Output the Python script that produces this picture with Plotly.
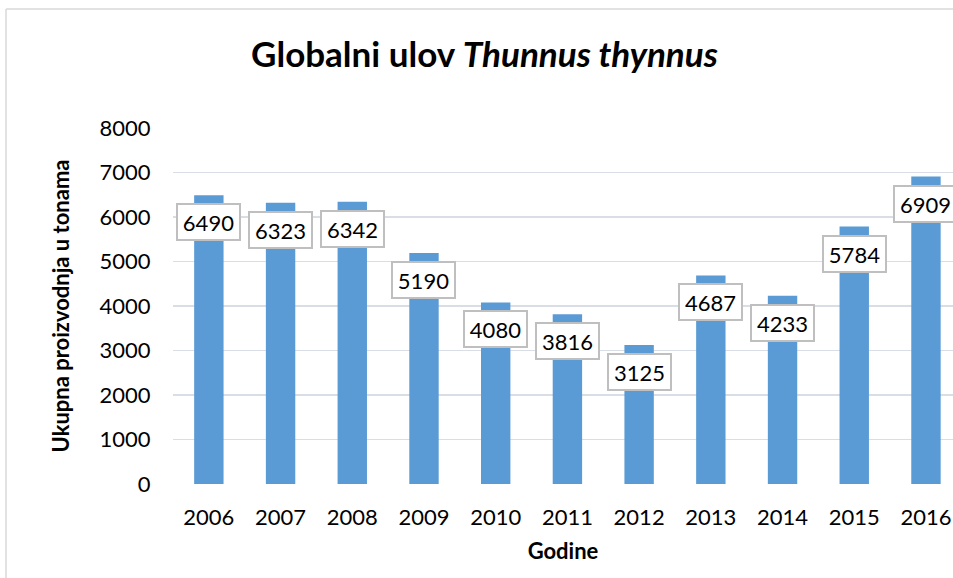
import plotly.graph_objects as go

years = ["2006", "2007", "2008", "2009", "2010", "2011", "2012", "2013", "2014", "2015", "2016"]
catch = [6490, 6323, 6342, 5190, 4080, 3816, 3125, 4687, 4233, 5784, 6909]
y_ticks = [0, 1000, 2000, 3000, 4000, 5000, 6000, 7000, 8000]

FONT = "Lato, 'Open Sans', sans-serif"
W, H = 953, 578
ML, MT, MB = 173, 128, 94
PW, PH = W - ML, H - MT - MB

fig = go.Figure()
fig.add_trace(go.Bar(
    x=years, y=catch,
    marker=dict(color="#5B9BD5", line=dict(width=0)),
    hoverinfo="skip",
))

for i, v in enumerate(catch):
    fig.add_annotation(
        x=i, y=v, xref="x", yref="y",
        text=str(v), showarrow=False,
        yshift=-27, yanchor="middle", xanchor="center",
        font=dict(family=FONT, size=22, color="#000000"),
        bgcolor="#FFFFFF", bordercolor="#BFBFBF", borderwidth=2, borderpad=1,
        width=59, height=32,
    )

# outer chart frame (left/top visible)
fx = (6 - ML) / PW
fy = (H - MB - 9) / PH
fig.add_shape(type="line", xref="paper", yref="paper",
              x0=fx, x1=fx, y0=-1, y1=fy,
              line=dict(color="#D9D9D9", width=1.5))
fig.add_shape(type="line", xref="paper", yref="paper",
              x0=fx, x1=1.2, y0=fy, y1=fy,
              line=dict(color="#D9D9D9", width=1.5))

fig.update_layout(
    width=W, height=H,
    margin=dict(l=ML, r=0, t=MT, b=MB),
    paper_bgcolor="white", plot_bgcolor="white",
    showlegend=False,
    bargap=0.59,
    font=dict(family=FONT, color="#000000"),
    title=dict(
        text="<b>Globalni ulov <i>Thunnus thynnus</i></b>",
        x=484.5 / W, xanchor="center", xref="container",
        y=1 - 55 / H, yanchor="middle", yref="container",
        font=dict(family=FONT, size=35, color="#000000"),
    ),
    xaxis=dict(
        type="category", range=[-0.5, 10.377],
        showgrid=False, showline=False, zeroline=False,
        ticks="outside", ticklen=14, tickcolor="rgba(0,0,0,0)",
        tickfont=dict(family=FONT, size=22, color="#000000"),
        title=dict(text="<b>Godine</b>", font=dict(family=FONT, size=22, color="#000000"), standoff=14),
    ),
    yaxis=dict(
        range=[0, 8000], tickvals=y_ticks,
        showgrid=True, gridcolor="#D9DEE6", gridwidth=1.5,
        zeroline=False, showline=False,
        ticks="outside", ticklen=17, tickcolor="rgba(0,0,0,0)",
        tickfont=dict(family=FONT, size=22, color="#000000"),
        title=dict(text="<b>Ukupna proizvodnja u tonama</b>", font=dict(family=FONT, size=22, color="#000000"), standoff=23),
    ),
)

fig.write_html(
    "out.html",
    config={"displayModeBar": False, "staticPlot": True},
    post_script="document.body.style.margin='0';document.body.style.overflow='hidden';",
)
